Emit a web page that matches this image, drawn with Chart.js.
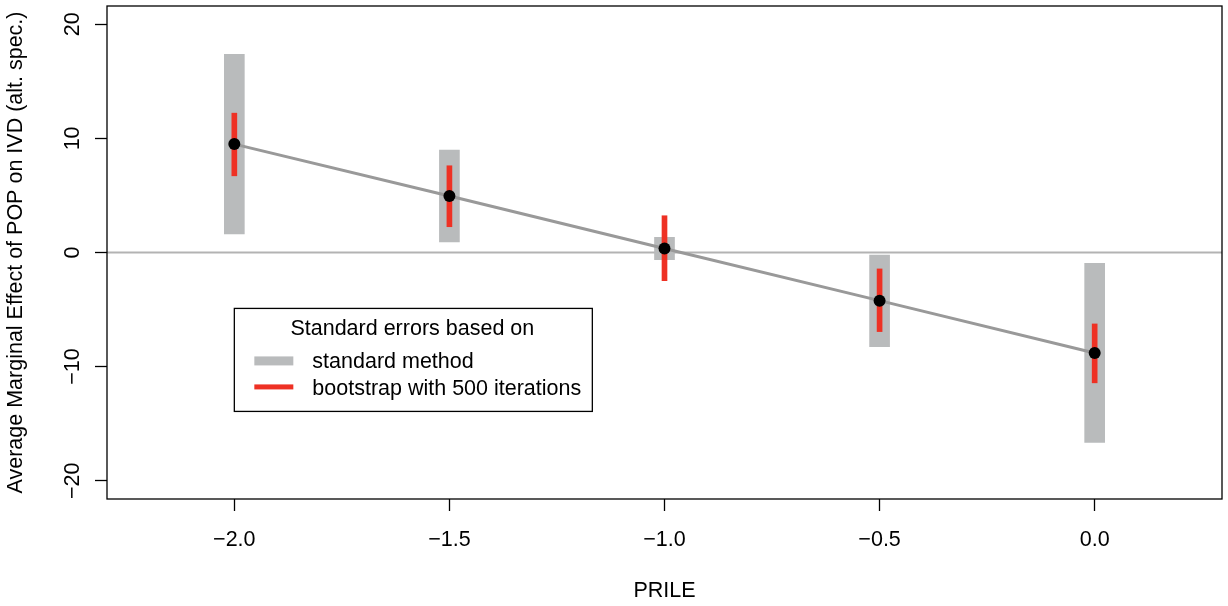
<!DOCTYPE html>
<html>
<head>
<meta charset="utf-8">
<script src="https://cdn.jsdelivr.net/npm/chart.js@4/dist/chart.umd.min.js"></script>
<style>
  html, body { margin: 0; padding: 0; background: #fff; }
  #wrap { width: 1228px; height: 606px; }
</style>
</head>
<body>
<div id="wrap"><canvas id="myChart" width="1228" height="606"></canvas></div>
<script>
// values
const prile = [-2.0, -1.5, -1.0, -0.5, 0.0];
const effect = [9.5, 4.95, 0.35, -4.22, -8.8];
const stdLow = [1.62, 0.92, -0.63, -8.25, -16.65];
const stdHigh = [17.37, 8.97, 1.33, -0.22, -0.95];
const bootLow = [6.72, 2.26, -2.47, -6.93, -11.42];
const bootHigh = [12.21, 7.60, 3.22, -1.44, -6.26];
const xTicks = [-2.0, -1.5, -1.0, -0.5, 0.0];
const yTicks = [-20, -10, 0, 10, 20];
const xRange = [-2.296, 0.296];
const yRange = [-21.6, 21.6];
const legendTitle = 'Standard errors based on';
const legendLabels = ['standard method', 'bootstrap with 500 iterations'];

const FONT = '"Liberation Sans", Arial, Helvetica, sans-serif';
const FSIZE = 21.5;
const grey = '#b9bbbc';
const red = '#ee3124';

function fmtX(v) {
    return (v < 0 ? '\u2212' : '') + Math.abs(v).toFixed(1);
}
function fmtY(v) {
    return (v < 0 ? '\u2212' : '') + Math.abs(v);
}

//box around the plot, y tick labels and the legend
const rStyle = {
    id: 'rStyle',
    afterDraw(chart) {
        const ctx = chart.ctx;
        const a = chart.chartArea;
        const xs = chart.scales.x, ys = chart.scales.y;
        ctx.save();
        ctx.strokeStyle = '#000';
        ctx.lineWidth = 1.3;
        ctx.strokeRect(a.left, a.top, a.right - a.left, a.bottom - a.top);

        //y labels parallel to the axis like R
        ctx.fillStyle = '#000';
        ctx.font = FSIZE + 'px ' + FONT;
        ctx.textAlign = 'center';
        ctx.textBaseline = 'middle';
        yTicks.forEach(v => {
            ctx.save();
            ctx.translate(73, ys.getPixelForValue(v));
            ctx.rotate(-Math.PI / 2);
            ctx.fillText(fmtY(v), 0, 0);
            ctx.restore();
        });

        //legend
        const lx = xs.getPixelForValue(-2.0);
        const ly = ys.getPixelForValue(-4.9);
        const w = 358, h = 103;
        ctx.fillStyle = '#fff';
        ctx.fillRect(lx, ly, w, h);
        ctx.strokeStyle = '#000';
        ctx.lineWidth = 1.3;
        ctx.strokeRect(lx, ly, w, h);
        ctx.fillStyle = '#000';
        ctx.textAlign = 'center';
        ctx.fillText(legendTitle, lx + 178, ly + 21);
        ctx.textAlign = 'left';
        ctx.fillText(legendLabels[0], lx + 78, ly + 54);
        ctx.fillText(legendLabels[1], lx + 78, ly + 81);
        ctx.fillStyle = grey;
        ctx.fillRect(lx + 20, ly + 48, 39, 9);
        ctx.fillStyle = red;
        ctx.fillRect(lx + 20, ly + 76, 39, 5);
        ctx.restore();
    }
};

new Chart('myChart', {
    type: 'bar',
    data: {
        datasets: [
            {
                type: 'line',
                data: [{x: xRange[0], y: 0}, {x: xRange[1], y: 0}],
                borderColor: '#b3b3b3',
                borderWidth: 2,
                pointRadius: 0,
                order: 4
            },
            {
                data: prile.map((x, i) => ({x: x, y: [stdLow[i], stdHigh[i]]})),
                backgroundColor: grey,
                barThickness: 20,
                grouped: false,
                order: 3
            },
            {
                data: prile.map((x, i) => ({x: x, y: [bootLow[i], bootHigh[i]]})),
                backgroundColor: red,
                barThickness: 5,
                grouped: false,
                order: 1
            },
            {
                type: 'line',
                data: prile.map((x, i) => ({x: x, y: effect[i]})),
                borderColor: '#999999',
                borderWidth: 3,
                pointRadius: 0,
                order: 2
            },
            {
                type: 'line',
                data: prile.map((x, i) => ({x: x, y: effect[i]})),
                showLine: false,
                pointRadius: 6,
                pointBackgroundColor: '#000',
                pointBorderWidth: 0,
                order: 0
            }
        ]
    },
    options: {
        responsive: false,
        animation: false,
        layout: { padding: { top: 5, right: 6, left: 0, bottom: 0 } },
        plugins: { legend: { display: false }, tooltip: { enabled: false } },
        scales: {
            x: {
                type: 'linear',
                min: xRange[0],
                max: xRange[1],
                offset: false,
                afterBuildTicks: s => { s.ticks = xTicks.map(v => ({value: v})); },
                afterFit: s => { s.height = 107; },
                grid: { offset: false, drawOnChartArea: false, drawTicks: true, tickLength: 12, tickColor: '#000', tickWidth: 1.3 },
                border: { display: false },
                ticks: {
                    color: '#000',
                    font: { family: FONT, size: FSIZE },
                    padding: 16,
                    maxRotation: 0,
                    callback: v => fmtX(v)
                },
                title: {
                    display: true,
                    text: 'PRILE',
                    color: '#000',
                    font: { family: FONT, size: FSIZE },
                    padding: { top: 0, bottom: 2 }
                }
            },
            y: {
                min: yRange[0],
                max: yRange[1],
                afterBuildTicks: s => { s.ticks = yTicks.map(v => ({value: v})); },
                afterFit: s => { s.width = 107; },
                grid: { drawOnChartArea: false, drawTicks: true, tickLength: 12, tickColor: '#000', tickWidth: 1.3 },
                border: { display: false },
                ticks: { display: false },
                title: {
                    display: true,
                    text: 'Average Marginal Effect of POP on IVD (alt. spec.)',
                    color: '#000',
                    font: { family: FONT, size: FSIZE },
                    padding: { top: 3, bottom: 0 }
                }
            }
        }
    },
    plugins: [rStyle]
});
</script>
</body>
</html>
